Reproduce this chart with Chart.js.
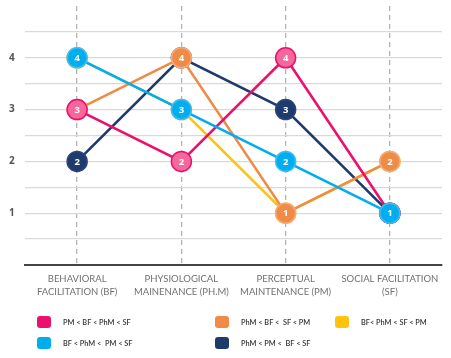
<!DOCTYPE html>
<html>
<head>
<meta charset="utf-8">
<script src="https://cdn.jsdelivr.net/npm/chart.js@4"></script>
<style>
html,body{margin:0;padding:0;background:#fff;}
#wrap{position:relative;width:451px;height:358px;}
#legend{position:absolute;left:0;top:0;width:451px;height:358px;pointer-events:none;
  font-family:Lato,"Open Sans",sans-serif;font-size:8px;font-weight:600;color:#333;}
.li{position:absolute;display:flex;align-items:center;white-space:pre;}
.sw{width:14px;height:12px;border-radius:3px;margin-right:12px;flex:none;}
.tx{display:inline-block;transform:scaleX(0.92);transform-origin:left center;}
</style>
</head>
<body>
<div id="wrap">
<canvas id="c" width="451" height="358"></canvas>
<div id="legend"></div>
</div>
<script>
const categories = [["BEHAVIORAL","FACILITATION (BF)"],["PHYSIOLOGICAL","MAINENANCE (PH.M)"],["PERCEPTUAL","MAINTENANCE (PM)"],["SOCIAL FACILITATION","(SF)"]];
const seriesLabels = ["PM < BF < PhM < SF","BF < PhM <  PM < SF","PhM < BF <  SF < PM","PhM < PM <  BF < SF","BF< PhM < SF < PM"];
const pinkValues   = [3,2,4,1];
const cyanValues   = [4,3,2,1];
const orangeValues = [3,4,1,2];
const navyValues   = [2,4,3,1];
const yellowValues = [4,3,1,2];
const yTickLabels = [1,2,3,4];

const colors = ["#ec106e","#00aeef","#ef8b47","#1f3b6c","#ffc30f"];
const pointFills = ["#f6689b","#00aeef","#ef8b47","#1f3b6c","#ffc30f"];
const pointBorders = ["#ec106e","#3dbff2","#f4ab78","#2a467a","#ffc30f"];
const values = [pinkValues,cyanValues,orangeValues,navyValues,yellowValues];
// draw order: orange on top, then cyan, pink, navy, yellow
const drawOrder = [2,1,3,4,5];

const datasets = values.map((v,i)=>({
  label: seriesLabels[i],
  data: v,
  borderColor: colors[i],
  backgroundColor: colors[i],
  pointBackgroundColor: pointFills[i],
  pointBorderColor: pointBorders[i],
  pointBorderWidth: 1.5,
  pointRadius: 10,
  pointHoverRadius: 10,
  borderWidth: 2.6,
  tension: 0,
  order: drawOrder[i]
}));

const pointLabels = {
  id:'pointLabels',
  afterDatasetDraw(chart, args){
    const ctx = chart.ctx;
    const meta = args.meta;
    const ds = chart.data.datasets[args.index];
    ctx.save();
    ctx.font = 'bold 9.5px "Open Sans", sans-serif';
    ctx.fillStyle = '#fff';
    ctx.textAlign = 'center';
    ctx.textBaseline = 'middle';
    meta.data.forEach((p,j)=>{
      ctx.fillText(String(ds.data[j]), p.x, p.y+0.5);
    });
    ctx.restore();
  }
};

new Chart(document.getElementById('c'), {
  type:'line',
  data:{labels:categories, datasets},
  plugins:[pointLabels],
  options:{
    responsive:false,
    animation:false,
    layout:{autoPadding:false,padding:{top:6,right:9,bottom:58,left:9}},
    plugins:{legend:{display:false},tooltip:{enabled:false}},
    scales:{
      x:{
        offset:true,
        grid:{color:'#b3b3b3',lineWidth:1.3,drawTicks:false,offset:false},
        border:{display:true,color:'#444',width:2,dash:[5,4]},
        ticks:{color:'#707070',font:{family:'Lato,sans-serif',size:9.5,lineHeight:1.4},padding:7,maxRotation:0,autoSkip:false},
        afterFit(s){s.height=35;}
      },
      y:{
        min:0,max:5,
        grid:{drawTicks:false,lineWidth:1.3,color:(c)=> (c.tick && (c.tick.value>0 && c.tick.value<5)) ? '#d9d9d9' : 'rgba(0,0,0,0)'},
        border:{display:false},
        ticks:{stepSize:0.5,padding:0,crossAlign:'far',color:'#555',
          font:(c)=> (c.tick && yTickLabels.includes(c.tick.value)) ? {family:'"Open Sans",sans-serif',size:10,weight:'bold'} : {size:1},
          callback:(v)=> yTickLabels.includes(v) ? String(v) : ''},
        afterFit(s){s.width=16;}
      }
    }
  }
});

// HTML legend (column layout as in reference)
const legendPos = [[37,322],[37,343],[215,322],[215,343],[335,322]];
const lg = document.getElementById('legend');
seriesLabels.forEach((t,i)=>{
  const d = document.createElement('div');
  d.className='li';
  d.style.left = legendPos[i][0]+'px';
  d.style.top = (legendPos[i][1]-6)+'px';
  d.innerHTML = '<span class="sw" style="background:'+colors[i]+'"></span><span class="tx"></span>';
  d.lastChild.textContent = t;
  lg.appendChild(d);
});
</script>
</body>
</html>
